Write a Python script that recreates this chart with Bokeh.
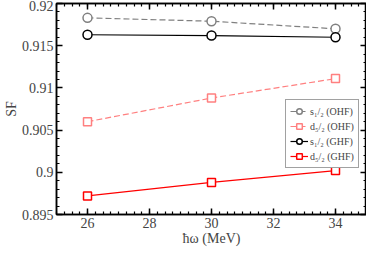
from bokeh.plotting import figure
from bokeh.models import (FixedTicker, LinearAxis, Range1d, CustomJSTickFormatter,
                          Legend, LegendItem)
from bokeh.embed import file_html
from bokeh.resources import INLINE

hw = [26, 30, 34]
s12_ohf = [0.9183, 0.9179, 0.9170]
d52_ohf = [0.9060, 0.9088, 0.9111]
s12_ghf = [0.9163, 0.9162, 0.9160]
d52_ghf = [0.8972, 0.8988, 0.9002]

x_ticks = [26, 28, 30, 32, 34]
y_ticks = [0.895, 0.9, 0.905, 0.91, 0.915, 0.92]

FONT = "Liberation Serif"

p = figure(width=366, height=248, output_backend="svg", toolbar_location=None,
           x_range=Range1d(25, 35), y_range=Range1d(0.895, 0.92),
           min_border_left=39, min_border_right=0, min_border_top=3, min_border_bottom=0)
p.grid.visible = False
p.outline_line_color = "black"
p.outline_line_width = 1.5
p.background_fill_color = "white"
p.border_fill_color = "white"

xt = FixedTicker(ticks=x_ticks, minor_ticks=[25 + 0.25 * i for i in range(41)])
yt = FixedTicker(ticks=y_ticks, minor_ticks=[0.895 + 0.001 * i for i in range(26)])
fmt = CustomJSTickFormatter(code="return tick.toFixed(3).replace(/0+$/,'').replace(/\\.$/,'');")
blank = CustomJSTickFormatter(code="return '';")

def style(ax, labels=True):
    ax.major_tick_in = 6
    ax.major_tick_out = 0
    ax.minor_tick_in = 3
    ax.minor_tick_out = 0
    ax.axis_line_width = 1.5
    ax.major_tick_line_width = 1.5
    ax.minor_tick_line_width = 1.2
    ax.major_label_text_font = FONT
    ax.major_label_text_font_size = "14px"
    ax.axis_label_text_font = FONT
    ax.axis_label_text_font_size = "14px"
    ax.axis_label_text_font_style = "normal"
    ax.major_label_standoff = 3
    ax.axis_label_standoff = 0
    if not labels:
        ax.formatter = blank
        ax.major_label_text_font_size = "1px"
        ax.major_label_standoff = 0

p.xaxis.ticker = xt
p.yaxis.ticker = yt
p.yaxis.formatter = fmt
p.xaxis.axis_label = "ħω (MeV)"
p.yaxis.axis_label = "SF"
style(p.xaxis[0])
style(p.yaxis[0])

top = LinearAxis(ticker=xt)
right = LinearAxis(ticker=yt)
style(top, False)
style(right, False)
p.add_layout(top, "above")
p.add_layout(right, "right")

r1l = p.line(hw, s12_ohf, line_color="#808080", line_dash="6 3", line_width=1.2)
r1m = p.scatter(hw, s12_ohf, marker="circle", size=9, fill_color="white",
                line_color="#808080", line_width=1.5)
r2l = p.line(hw, d52_ohf, line_color="#ff8080", line_dash="6 3", line_width=1.2)
r2m = p.scatter(hw, d52_ohf, marker="square", size=8, fill_color="white",
                line_color="#ff8080", line_width=1.5)
r3l = p.line(hw, s12_ghf, line_color="black", line_width=1.2)
r3m = p.scatter(hw, s12_ghf, marker="circle", size=9, fill_color="white",
                line_color="black", line_width=1.5)
r4l = p.line(hw, d52_ghf, line_color="red", line_width=1.2)
r4m = p.scatter(hw, d52_ghf, marker="square", size=8, fill_color="white",
                line_color="red", line_width=1.5)

legend = Legend(items=[
    LegendItem(label="s₁/₂ (OHF)", renderers=[r1l, r1m]),
    LegendItem(label="d₅/₂ (OHF)", renderers=[r2l, r2m]),
    LegendItem(label="s₁/₂ (GHF)", renderers=[r3l, r3m]),
    LegendItem(label="d₅/₂ (GHF)", renderers=[r4l, r4m]),
], location=(229, 46))
legend.label_text_font = FONT
legend.label_text_font_size = "10px"
legend.border_line_color = "#444444"
legend.border_line_width = 1
legend.spacing = 1
legend.padding = 4
legend.margin = 0
legend.glyph_width = 18
legend.glyph_height = 14
legend.label_height = 14
legend.label_standoff = 2
legend.background_fill_alpha = 1
p.add_layout(legend, "center")

open("out.html", "w").write(file_html(p, INLINE))
